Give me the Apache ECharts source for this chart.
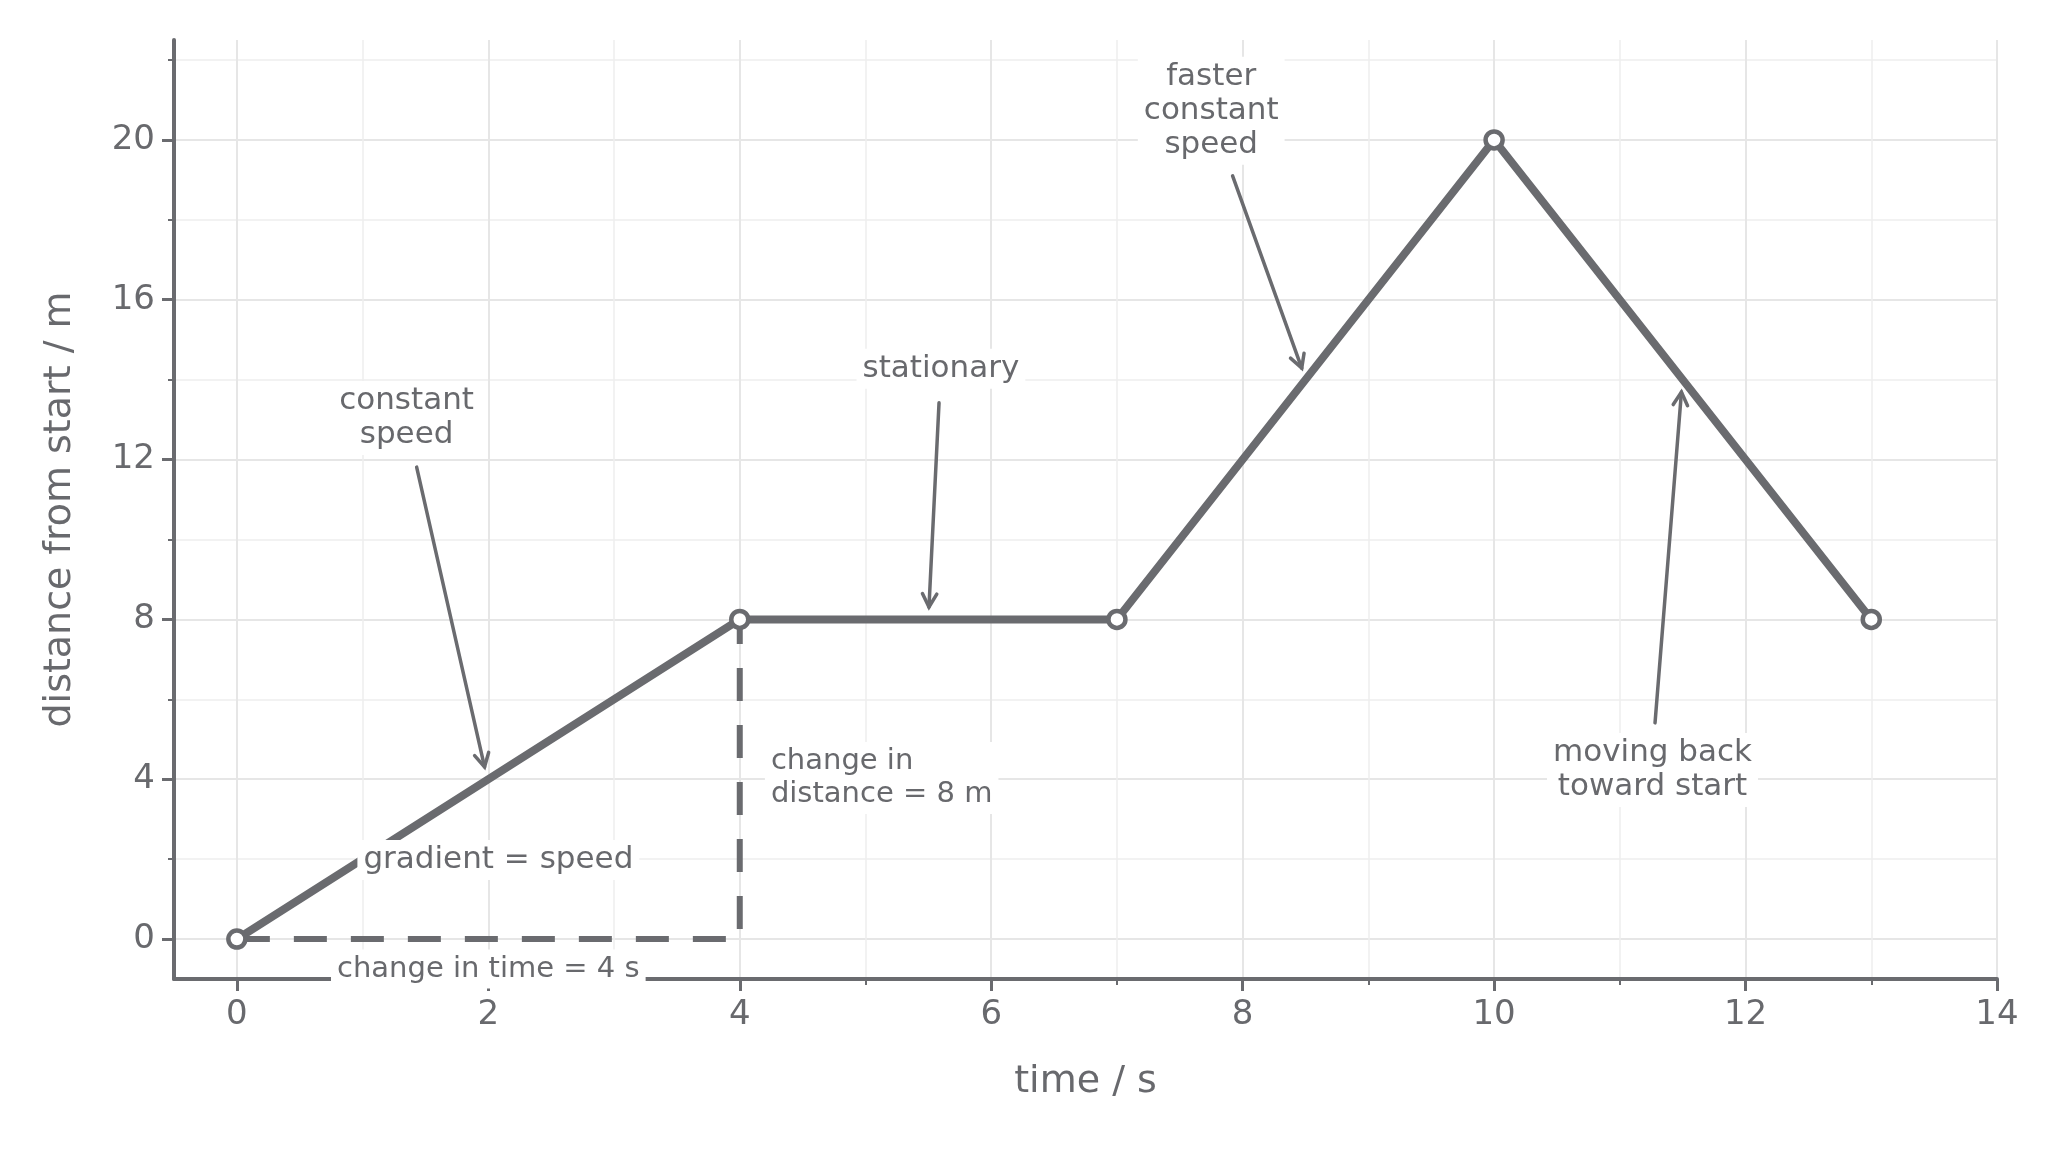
<!DOCTYPE html>
<html>
<head>
<meta charset="utf-8">
<title>distance-time graph</title>
<script src="https://cdn.jsdelivr.net/npm/echarts@6/dist/echarts.min.js"></script>
<style>
	html, body { margin: 0; padding: 0; background: #fff; }
	#chart { width: 2048px; height: 1152px; }
</style>
</head>
<body>
<div id="chart"></div>
<script>
/* journey */
const times = [0, 4, 7, 10, 13];
const distances = [0, 8, 8, 20, 8];
/* gradient guide: change in time, then change in distance */
const guideTimes = [0, 4, 4];
const guideDistances = [0, 0, 8];
/* ticks */
const xMajorTicks = [0, 2, 4, 6, 8, 10, 12, 14];
const xMinorTicks = [1, 3, 5, 7, 9, 11, 13];
const yMajorTicks = [0, 4, 8, 12, 16, 20];
const yMinorTicks = [2, 6, 10, 14, 18, 22];
/* annotations (data units) */
const noteTexts = [
	'constant\nspeed',
	'stationary',
	'faster\nconstant\nspeed',
	'moving back\ntoward start',
	'gradient = speed',
	'change in time = 4 s',
	'change in\ndistance = 8 m'
];
const notePositions = [[1.35, 13.04], [5.6, 14.27], [7.75, 20.73], [11.26, 4.23], [2.08, 1.98], [2.0, -0.75], [4.2, 4.03]];
const arrowTails = [[1.43, 11.81], [5.585, 13.42], [7.92, 19.1], [11.28, 5.41]];
const arrowTips = [[1.97, 4.31], [5.505, 8.31], [8.47, 14.29], [11.49, 13.69]];

document.addEventListener('DOMContentLoaded', () => {
	const ink = '#6a6b6f';
	const textInk = '#68696d';
	const font = '"DejaVu Sans", sans-serif';
	const chart = echarts.init(document.querySelector('#chart'));

	/* 注释：文字 + 箭头 */
	const renderNote = (params, api) => {
		const i = params.dataIndex;
		const children = [];
		if (arrowTails[i]) {
			const a = api.coord(arrowTails[i]);
			const b = api.coord(arrowTips[i]);
			const ang = Math.atan2(b[1] - a[1], b[0] - a[0]);
			const len = 15, spread = 0.5;
			const p1 = [b[0] - len * Math.cos(ang - spread), b[1] - len * Math.sin(ang - spread)];
			const p2 = [b[0] - len * Math.cos(ang + spread), b[1] - len * Math.sin(ang + spread)];
			children.push({
				type: 'line',
				shape: { x1: a[0], y1: a[1], x2: b[0], y2: b[1] },
				style: { stroke: ink, lineWidth: 3.5, lineCap: 'round' }
			});
			children.push({
				type: 'polyline',
				shape: { points: [p1, b, p2] },
				style: { stroke: ink, lineWidth: 3.5, fill: null, lineCap: 'round' }
			});
		}
		/* “change in …” 两条说明字号略小 */
		const small = noteTexts[i].indexOf('change in') === 0;
		const p = api.coord(notePositions[i]);
		children.push({
			type: 'text',
			x: p[0],
			y: p[1],
			style: {
				text: noteTexts[i],
				fill: textInk,
				fontSize: small ? 29 : 31,
				fontFamily: font,
				align: i === 6 ? 'left' : 'center',
				verticalAlign: 'middle',
				lineHeight: small ? 33 : 34,
				backgroundColor: '#ffffff',
				padding: [3, 6]
			}
		});
		return { type: 'group', children };
	};

	const minorAxis = (min, max, ticks, position) => ({
		type: 'value',
		min,
		max,
		position,
		axisLine: { show: false, onZero: false },
		axisTick: { show: true, customValues: ticks, length: 6, lineStyle: { color: ink, width: 2 } },
		axisLabel: { show: false },
		splitLine: { show: true, lineStyle: { color: '#eeeeee', width: 1.5 } },
		minorTick: { show: false },
		minorSplitLine: { show: false }
	});

	const majorAxis = (min, max, ticks, position, name, nameGap) => ({
		type: 'value',
		min,
		max,
		position,
		name,
		nameLocation: 'middle',
		nameGap,
		nameTextStyle: { fontSize: 38, color: textInk, fontFamily: font },
		axisLine: { show: true, onZero: false, lineStyle: { color: ink, width: 4 } },
		axisTick: { show: true, customValues: ticks, length: 12, lineStyle: { color: ink, width: 3 } },
		axisLabel: { customValues: ticks, fontSize: 34, color: textInk, fontFamily: font, margin: 19 },
		splitLine: { show: true, lineStyle: { color: '#e6e6e6', width: 2 } },
		minorTick: { show: false },
		minorSplitLine: { show: false }
	});

	chart.setOption({
		animation: false,
		backgroundColor: '#ffffff',
		textStyle: { fontFamily: font },
		grid: {
			left: 174,
			right: 51,
			top: 40,
			bottom: 173,
			containLabel: false,
			outerBoundsMode: 'none'
		},
		xAxis: [
			minorAxis(-0.5, 14, xMinorTicks, 'bottom'),
			majorAxis(-0.5, 14, xMajorTicks, 'bottom', 'time / s', 84)
		],
		yAxis: [
			minorAxis(-1, 22.5, yMinorTicks, 'left'),
			majorAxis(-1, 22.5, yMajorTicks, 'left', 'distance from start / m', 95)
		],
		series: [
			{
				type: 'line',
				xAxisIndex: 1,
				yAxisIndex: 1,
				data: guideTimes.map((t, i) => [t, guideDistances[i]]),
				symbol: 'none',
				lineStyle: { color: ink, width: 6, type: [33, 24], cap: 'butt' },
				z: 3
			},
			{
				type: 'line',
				xAxisIndex: 1,
				yAxisIndex: 1,
				data: times.map((t, i) => [t, distances[i]]),
				symbol: 'circle',
				symbolSize: 17,
				showAllSymbol: true,
				lineStyle: { color: ink, width: 8 },
				itemStyle: { color: '#ffffff', borderColor: ink, borderWidth: 4.5 },
				z: 5
			},
			{
				type: 'custom',
				xAxisIndex: 1,
				yAxisIndex: 1,
				data: notePositions.map((p, i) => [p[0], p[1], i]),
				encode: { x: 0, y: 1 },
				renderItem: renderNote,
				silent: true,
				z: 10
			}
		]
	});
});
</script>
</body>
</html>
